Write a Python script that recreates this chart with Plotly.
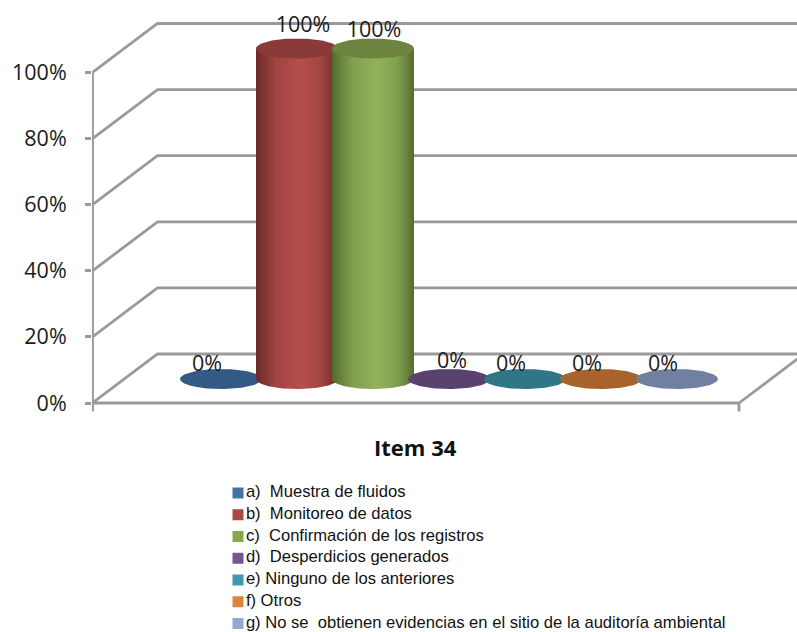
import numpy as np
import plotly.graph_objects as go

# ---- data ----
categories = ["a)  Muestra de fluidos", "b)  Monitoreo de datos", "c)  Confirmación de los registros",
              "d)  Desperdicios generados", "e) Ninguno de los anteriores", "f) Otros",
              "g) No se  obtienen evidencias en el sitio de la auditoría ambiental"]
values = [0, 100, 100, 0, 0, 0, 0]
y_ticks = [0, 20, 40, 60, 80, 100]
y_tick_labels = ["0%", "20%", "40%", "60%", "80%", "100%"]
chart_title = "Item 34"

# ---- style ----
legend_colors = ["#4572a7", "#aa4643", "#89a54e", "#71588f", "#4198af", "#db843d", "#93a9cf"]
cap_colors = ["#335a85", "#8a3a38", "#6d8440", "#5a4270", "#2f7686", "#a8632d", "#6f80a0"]
edge_colors = ["#2a4a70", "#6a2a28", "#566b2e", "#46335a", "#24606e", "#8a5024", "#5a6a88"]
mid_colors = ["#4572a7", "#b54e4c", "#93b25a", "#71588f", "#4198af", "#db843d", "#93a9cf"]
shoulder_colors = ["#3d6695", "#a04542", "#80a04e", "#654f80", "#3a8a9e", "#c47536", "#8497bb"]
label_dx = [-14, 6, 1, 3, -14, -14, -14]
label_dy = [-13, -22, -17, -16, -13, -13, -13]

# ---- projection (pixel-like frame) ----
PX_PER_UNIT = 3.305
ZERO_PY = 403.0
H = 632
W = 797
LEFT = 92
DEPTH_X, DEPTH_Y = 65, 49 / PX_PER_UNIT
AX_X0, AX_X1 = 92.5, 739
ymin, ymax = (ZERO_PY - H) / PX_PER_UNIT, ZERO_PY / PX_PER_UNIT
CX0, CSTEP, RX, RY = 221, 76, 41, 10 / PX_PER_UNIT
BASE = (ZERO_PY - 379) / PX_PER_UNIT
TICK_DROP = 8.5 / PX_PER_UNIT
LEG_SWATCH_X, LEG_TOP_PY, LEG_STEP_PY = 238, 493, 21.75

fig = go.Figure()
GRID = dict(color="#9a9a9a", width=2.8)


def line(xs, ys):
    fig.add_trace(go.Scatter(x=xs, y=ys, mode="lines", line=GRID, showlegend=False,
                             hoverinfo="skip", cliponaxis=False))


# back wall grid and side wall
for t in y_ticks:
    line([AX_X0, AX_X0 + DEPTH_X, W], [t, t + DEPTH_Y, t + DEPTH_Y])
# floor
line([AX_X1, AX_X1 + DEPTH_X], [0, DEPTH_Y])
line([AX_X0 - 8, AX_X1], [0, 0])
line([AX_X0, AX_X0], [-TICK_DROP, y_ticks[-1]])
line([AX_X1, AX_X1], [-TICK_DROP, 0])

theta_front = np.linspace(np.pi, 2 * np.pi, 60)
theta_full = np.linspace(0, 2 * np.pi, 90)

for i, v in enumerate(values):
    cx = CX0 + CSTEP * i
    top = BASE + v
    if v > 0:
        bx = cx + RX * np.cos(theta_front)
        by = BASE + RY * np.sin(theta_front)
        xs = np.concatenate([bx, [cx + RX, cx - RX, cx - RX]])
        ys = np.concatenate([by, [top, top, BASE]])
        fig.add_trace(go.Scatter(
            x=xs, y=ys, mode="lines", line=dict(width=0), fill="toself",
            fillgradient=dict(type="horizontal", start=cx - RX, stop=cx + RX,
                              colorscale=[[0, edge_colors[i]], [0.25, shoulder_colors[i]],
                                          [0.55, mid_colors[i]], [0.8, shoulder_colors[i]],
                                          [1, edge_colors[i]]]),
            showlegend=False, hoverinfo="skip"))
    fig.add_trace(go.Scatter(
        x=cx + RX * np.cos(theta_full), y=top + RY * np.sin(theta_full),
        mode="lines", line=dict(width=0), fill="toself", fillcolor=cap_colors[i],
        showlegend=False, hoverinfo="skip", name=categories[i]))

# data labels
for i, v in enumerate(values):
    fig.add_trace(go.Scatter(
        x=[CX0 + CSTEP * i + label_dx[i]], y=[BASE + v - label_dy[i] / PX_PER_UNIT],
        mode="text", text=[f"{v}%"], textposition="middle center",
        textfont=dict(family="Open Sans", size=21.5, color="#1a1a1a"),
        showlegend=False, hoverinfo="skip", cliponaxis=False))

# legend rows
for i, c in enumerate(categories):
    fig.add_trace(go.Scatter(
        x=[LEG_SWATCH_X], y=[(ZERO_PY - (LEG_TOP_PY + i * LEG_STEP_PY)) / PX_PER_UNIT],
        mode="markers+text", name=c, text=[c], textposition="middle right",
        textfont=dict(family="Liberation Sans", size=16.6, color="#111111"),
        marker=dict(symbol="square", size=11, color=legend_colors[i]),
        showlegend=False, hoverinfo="name", cliponaxis=False))

fig.update_layout(
    width=W, height=H, autosize=False, showlegend=False,
    margin=dict(l=LEFT, r=0, t=0, b=0, pad=0),
    paper_bgcolor="white", plot_bgcolor="white",
    font=dict(family="Liberation Sans", color="#1a1a1a"),
    xaxis=dict(range=[LEFT, W], visible=False, fixedrange=True),
    yaxis=dict(range=[ymin, ymax], showgrid=False, zeroline=False, showline=False,
               tickmode="array", tickvals=y_ticks, ticktext=y_tick_labels,
               ticks="outside", ticklen=6, tickwidth=2.8, tickcolor="#9a9a9a",
               ticklabelstandoff=14,
               tickfont=dict(family="Open Sans", size=21.5, color="#1a1a1a"), fixedrange=True),
    annotations=[dict(text=f"<b>{chart_title}</b>", x=415.5, y=(ZERO_PY - 447) / PX_PER_UNIT,
                      xref="x", yref="y", showarrow=False,
                      font=dict(family="Open Sans", size=22, color="#111111"))],
)
fig.write_html("out.html", config={"displayModeBar": False},
               post_script="document.body.style.margin='0';document.body.style.overflow='hidden';")
